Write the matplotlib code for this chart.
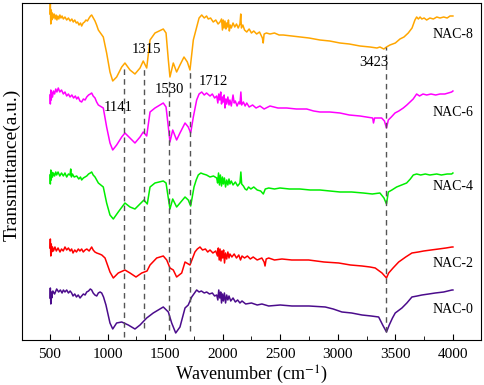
import matplotlib
matplotlib.use("Agg")
import matplotlib.pyplot as plt
from matplotlib.ticker import MultipleLocator

plt.rcParams["font.family"] = ["Liberation Serif", "DejaVu Serif"]
plt.rcParams["mathtext.fontset"] = "stix"

# FTIR spectra (wavenumber cm-1, transmittance a.u. with vertical offset)
nac8 = [(500, 326), (503, 336), (507, 316), (511, 330), (515, 320), (520, 327), (528, 322),
        (536, 326), (545, 321), (553, 325), (560, 320), (568, 324), (577, 321), (586, 325),
        (595, 322), (605, 324), (616, 321), (630, 323), (645, 320), (660, 322), (675, 319),
        (690, 321), (702, 318), (715, 320), (728, 317), (740, 318), (752, 315), (765, 317),
        (775, 314), (788, 317), (800, 318), (812, 320), (825, 319), (840, 322), (852, 324),
        (862, 325), (872, 323), (882, 321), (891, 319), (905, 315), (920, 310), (963, 303),
        (992, 287), (1021, 268), (1045, 259), (1079, 263), (1123, 273), (1151, 277),
        (1195, 270), (1238, 266), (1282, 272), (1310, 279), (1340, 272), (1369, 300),
        (1412, 307), (1484, 311), (1508, 307), (1528, 280), (1542, 263), (1571, 277),
        (1600, 268), (1629, 275), (1664, 283), (1693, 278), (1716, 270), (1745, 300),
        (1774, 313), (1795, 322), (1818, 325), (1840, 322), (1860, 324), (1875, 321),
        (1895, 322), (1918, 318), (1940, 320), (1960, 316), (1977, 318), (1990, 321),
        (1998, 310), (2005, 320), (2012, 312), (2020, 319), (2028, 311), (2035, 317),
        (2043, 313), (2050, 320), (2058, 309), (2066, 315), (2075, 312), (2090, 317),
        (2105, 313), (2120, 316), (2135, 312), (2150, 316), (2157, 326), (2163, 312),
        (2175, 315), (2190, 310), (2209, 308), (2230, 311), (2250, 307), (2270, 309),
        (2295, 306), (2320, 308), (2345, 302), (2352, 297), (2360, 306), (2380, 307),
        (2411, 306), (2450, 307), (2490, 305), (2526, 305), (2600, 304), (2671, 303),
        (2750, 302), (2845, 300), (2930, 299), (3019, 297), (3100, 296), (3193, 294),
        (3280, 293), (3340, 292), (3366, 293), (3400, 291), (3423, 293), (3453, 295),
        (3500, 297), (3540, 301), (3575, 303), (3612, 307), (3645, 312), (3670, 320),
        (3685, 323), (3700, 321), (3715, 323), (3730, 321), (3750, 322), (3772, 320),
        (3800, 322), (3830, 321), (3860, 323), (3888, 322), (3920, 323), (3950, 322),
        (3975, 324), (4000, 324)]

nac6 = [(500, 245), (503, 236), (507, 250), (511, 240), (515, 248), (522, 243), (530, 249),
        (540, 246), (550, 251), (560, 248), (572, 252), (585, 248), (600, 250), (616, 246),
        (630, 248), (645, 244), (660, 246), (674, 243), (690, 245), (705, 242), (720, 244),
        (732, 241), (745, 243), (760, 239), (775, 238), (790, 241), (805, 240), (819, 243),
        (835, 245), (850, 246), (862, 247), (875, 244), (891, 242), (905, 238), (920, 235),
        (963, 232), (992, 213), (1021, 197), (1045, 190), (1079, 195), (1123, 203),
        (1151, 207), (1195, 202), (1238, 197), (1282, 203), (1310, 208), (1340, 204),
        (1369, 228), (1412, 232), (1484, 237), (1508, 233), (1528, 213), (1542, 198),
        (1566, 210), (1600, 200), (1629, 207), (1673, 217), (1701, 213), (1722, 207),
        (1745, 223), (1774, 240), (1795, 246), (1818, 248), (1840, 245), (1860, 247),
        (1890, 244), (1910, 246), (1930, 242), (1948, 244), (1958, 237), (1966, 246),
        (1975, 240), (1983, 248), (1990, 236), (1998, 243), (2005, 238), (2013, 245),
        (2020, 232), (2028, 241), (2035, 236), (2045, 243), (2055, 235), (2063, 240),
        (2075, 234), (2090, 245), (2100, 237), (2110, 239), (2125, 234), (2140, 238),
        (2150, 236), (2158, 248), (2165, 235), (2180, 238), (2195, 234), (2209, 237),
        (2230, 233), (2260, 235), (2290, 232), (2324, 234), (2360, 231), (2411, 234),
        (2480, 232), (2556, 232), (2640, 231), (2730, 231), (2790, 229), (2845, 228),
        (2930, 228), (3019, 227), (3100, 225), (3193, 224), (3250, 223), (3303, 222),
        (3310, 217), (3320, 222), (3381, 222), (3405, 219), (3423, 212), (3439, 220),
        (3465, 223), (3497, 227), (3530, 229), (3569, 232), (3600, 235), (3627, 238),
        (3655, 241), (3685, 246), (3710, 244), (3740, 246), (3772, 245), (3810, 246),
        (3850, 245), (3888, 246), (3930, 246), (3960, 247), (3989, 248), (4000, 249)]

nac4 = [(500, 165), (503, 156), (507, 170), (511, 160), (515, 168), (522, 163), (530, 167),
        (540, 164), (550, 168), (558, 165), (570, 168), (585, 164), (600, 167), (616, 164),
        (630, 167), (645, 163), (660, 166), (674, 165), (680, 171), (686, 163), (695, 166),
        (710, 163), (732, 164), (750, 161), (765, 163), (775, 160), (790, 162), (805, 163),
        (819, 164), (835, 166), (850, 167), (862, 168), (875, 165), (891, 163), (905, 160),
        (920, 157), (963, 153), (992, 137), (1021, 125), (1050, 121), (1093, 128),
        (1151, 137), (1195, 133), (1238, 131), (1282, 136), (1316, 140), (1345, 136),
        (1369, 153), (1412, 157), (1484, 159), (1508, 157), (1528, 142), (1542, 131),
        (1566, 141), (1600, 133), (1629, 137), (1673, 143), (1701, 140), (1722, 134),
        (1751, 153), (1770, 160), (1788, 165), (1810, 167), (1832, 166), (1860, 165),
        (1890, 163), (1920, 164), (1948, 162), (1956, 157), (1964, 167), (1972, 155),
        (1980, 165), (1990, 154), (1998, 163), (2006, 156), (2015, 162), (2025, 153),
        (2035, 160), (2045, 155), (2055, 161), (2063, 156), (2075, 159), (2090, 155),
        (2110, 158), (2130, 154), (2150, 157), (2158, 168), (2165, 156), (2180, 154),
        (2195, 151), (2209, 150), (2225, 153), (2245, 151), (2270, 153), (2300, 150),
        (2330, 149), (2353, 146), (2370, 151), (2400, 152), (2450, 151), (2498, 152),
        (2580, 151), (2671, 151), (2760, 150), (2845, 150), (2930, 149), (3019, 148),
        (3120, 148), (3221, 147), (3300, 146), (3366, 147), (3401, 142), (3423, 136),
        (3439, 148), (3470, 150), (3511, 153), (3555, 155), (3598, 157), (3630, 161),
        (3656, 165), (3685, 166), (3720, 165), (3760, 166), (3800, 165), (3859, 166),
        (3900, 165), (3950, 166), (3989, 166), (4000, 167)]

nac2 = [(500, 92), (503, 101), (507, 84), (511, 96), (515, 88), (522, 93), (530, 89),
        (543, 93), (555, 89), (570, 92), (587, 88), (600, 91), (615, 89), (630, 93),
        (645, 90), (660, 92), (675, 89), (688, 91), (700, 87), (715, 90), (730, 88),
        (746, 91), (760, 89), (775, 91), (789, 88), (805, 90), (820, 91), (840, 89),
        (862, 93), (875, 90), (890, 88), (906, 87), (930, 86), (950, 85), (978, 82),
        (1021, 68), (1050, 62), (1093, 67), (1151, 70), (1195, 67), (1247, 63), (1297, 67),
        (1343, 69), (1369, 75), (1427, 82), (1484, 84), (1514, 80), (1542, 72), (1571, 70),
        (1600, 63), (1644, 67), (1673, 78), (1716, 75), (1759, 88), (1780, 91), (1803, 93),
        (1825, 90), (1850, 91), (1870, 88), (1890, 90), (1915, 87), (1940, 89), (1955, 84),
        (1962, 92), (1970, 80), (1977, 91), (1985, 79), (1993, 89), (2000, 82), (2008, 90),
        (2016, 77), (2025, 87), (2035, 81), (2045, 88), (2055, 82), (2063, 86), (2080, 83),
        (2100, 86), (2120, 82), (2140, 85), (2155, 80), (2168, 84), (2190, 82), (2215, 84),
        (2240, 81), (2265, 83), (2300, 80), (2340, 82), (2360, 78), (2368, 74), (2378, 81),
        (2400, 82), (2450, 80), (2515, 81), (2600, 80), (2747, 80), (2880, 78), (3008, 77),
        (3110, 75), (3210, 74), (3280, 73), (3325, 72), (3384, 67), (3423, 62), (3442, 67),
        (3480, 72), (3529, 78), (3590, 83), (3644, 87), (3700, 88), (3746, 89), (3810, 90),
        (3876, 91), (3940, 92), (3992, 93), (4000, 93)]

nac0 = [(500, 42), (503, 52), (507, 36), (511, 48), (515, 42), (525, 49), (540, 46),
        (558, 51), (575, 48), (590, 50), (605, 47), (616, 50), (630, 48), (645, 50),
        (660, 47), (675, 49), (688, 47), (700, 44), (715, 46), (730, 43), (745, 45),
        (761, 42), (775, 44), (790, 46), (805, 45), (819, 48), (835, 49), (850, 51),
        (862, 50), (875, 47), (890, 45), (906, 44), (920, 47), (935, 48), (949, 47),
        (965, 43), (986, 35), (1021, 17), (1045, 11), (1079, 17), (1123, 18), (1180, 15),
        (1238, 11), (1282, 15), (1340, 22), (1397, 27), (1484, 33), (1528, 28), (1557, 17),
        (1592, 7), (1629, 13), (1673, 32), (1701, 35), (1731, 43), (1774, 50), (1795, 48),
        (1815, 49), (1840, 47), (1861, 48), (1885, 46), (1910, 47), (1930, 44), (1948, 45),
        (1958, 40), (1966, 50), (1975, 42), (1983, 48), (1990, 37), (1998, 46), (2006, 39),
        (2015, 47), (2025, 37), (2035, 45), (2045, 40), (2055, 44), (2070, 39), (2090, 42),
        (2110, 38), (2130, 40), (2150, 37), (2168, 39), (2200, 36), (2250, 37), (2300, 35),
        (2341, 36), (2400, 34), (2500, 35), (2602, 34), (2750, 34), (2891, 33), (2960, 31),
        (3036, 28), (3120, 27), (3210, 25), (3290, 24), (3355, 23), (3390, 15), (3423, 8),
        (3447, 15), (3475, 22), (3499, 27), (3557, 32), (3600, 37), (3644, 43), (3690, 44),
        (3731, 45), (3790, 46), (3847, 47), (3920, 48), (3992, 50), (4000, 50)]

samples = ["NAC-8", "NAC-6", "NAC-4", "NAC-2", "NAC-0"]
spectra = [nac8, nac6, nac4, nac2, nac0]
colors = ["#FFA600", "#FF00FF", "#00EE00", "#FF0000", "#4B0C8C"]
label_y = [306, 227, 153, 76, 30]

# marked bands: position, top / bottom of the dashed guide, label spot
peaks = [1141, 1315, 1530, 1712, 3423]
peak_top = [275, 272, 262, 270, 293]
peak_bottom = [3, 12, 10, 9, 8]
peak_text_x = [1091, 1334, 1534, 1916, 3314]
peak_text_y = [233, 291, 251, 259, 278]

fig = plt.figure(figsize=(4.84, 3.85), dpi=100)
ax = fig.add_axes([0.0455, 0.1169, 0.9483, 0.8753])

for name, spec, c, ly in zip(samples, spectra, colors, label_y):
    wn = [p[0] for p in spec]
    t = [p[1] for p in spec]
    ax.plot(wn, t, color=c, lw=1.1)
    ax.text(4000, ly, name, ha="center", va="center", fontsize=10)

for x, top, bot, tx, ty in zip(peaks, peak_top, peak_bottom, peak_text_x, peak_text_y):
    ax.plot([x, x], [bot, top], ls=(0, (4, 3)), color="#555555", lw=1.0)
    ax.text(tx, ty, str(x), ha="center", va="center", fontsize=10.5)

ax.set_xlim(257, 4244)
ax.set_ylim(0, 337)
ax.xaxis.set_major_locator(MultipleLocator(500))
ax.xaxis.set_minor_locator(MultipleLocator(250))
ax.tick_params(axis="x", which="both", direction="in", labelsize=11, top=False, pad=6)
ax.tick_params(axis="x", which="major", length=4)
ax.tick_params(axis="x", which="minor", length=3)
ax.set_yticks([])
ax.set_xlabel("Wavenumber (cm$^{-1}$)", fontsize=13, labelpad=2)
ax.set_ylabel("Transmittance(a.u.)", fontsize=14)
ax.yaxis.set_label_coords(-0.003, 0.52)

fig.savefig("out.png", dpi=100)
